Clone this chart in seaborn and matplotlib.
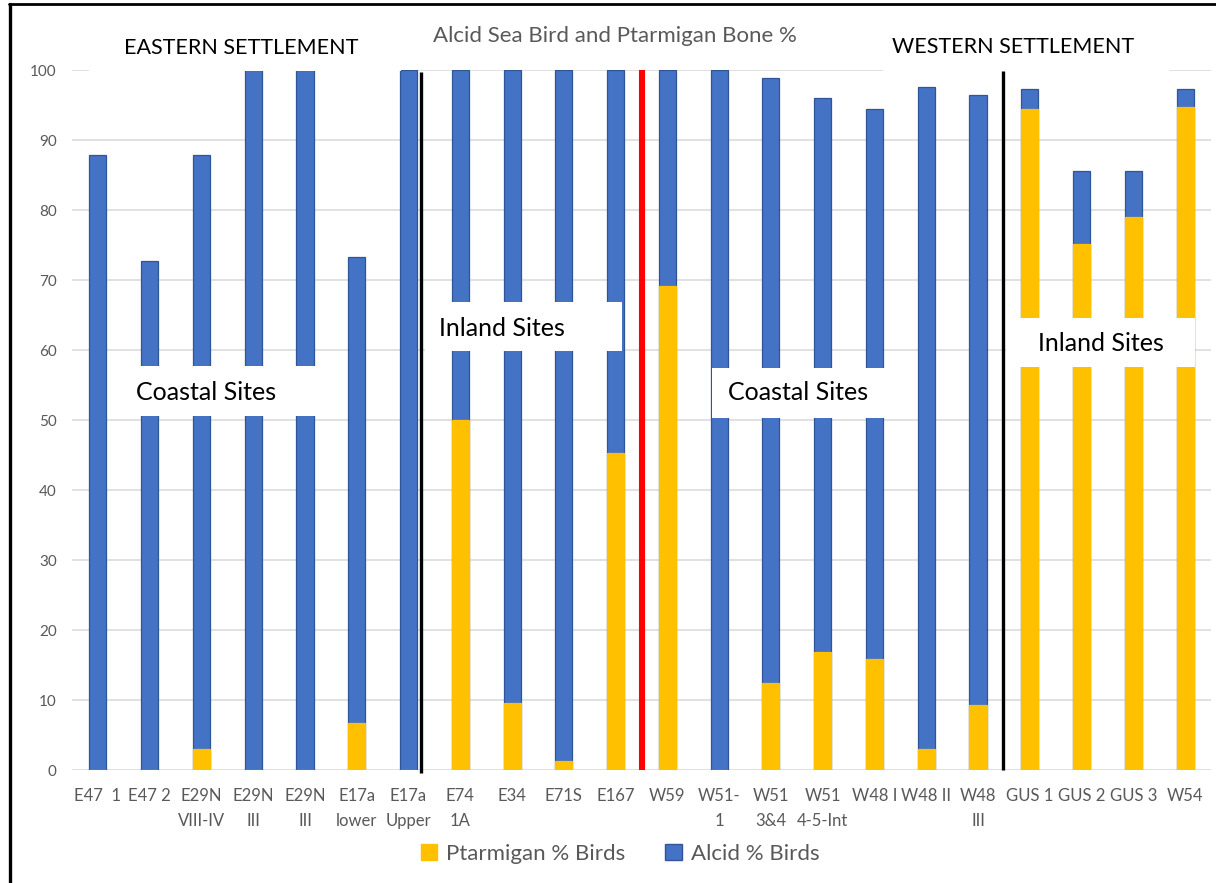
import matplotlib
matplotlib.use("Agg")
import matplotlib.pyplot as plt
from matplotlib.patches import Rectangle, Patch
from matplotlib.lines import Line2D
import numpy as np
import pandas as pd
import seaborn as sns

# Site labels along the x axis
sites = ["E47  1", "E47 2", "E29N\nVIII-IV", "E29N\nIII", "E29N\nIII",
         "E17a\nlower", "E17a\nUpper", "E74\n1A", "E34", "E71S", "E167",
         "W59", "W51-\n1", "W51\n3&4", "W51\n4-5-Int", "W48 I", "W48 II",
         "W48\nIII", "GUS 1", "GUS 2", "GUS 3", "W54"]

# Ptarmigan share of bird bones (%)
ptarmigan = [0, 0, 3.0, 0, 0, 6.7, 0, 50.0, 9.6, 1.3, 45.3,
             69.1, 0, 12.4, 16.9, 15.9, 3.0, 9.3, 94.4, 75.1, 79.0, 94.7]

# Alcid share of bird bones (%)
alcid = [87.9, 72.7, 84.9, 100.0, 100.0, 66.6, 100.0, 50.0, 90.4, 98.7, 54.7,
         30.9, 100.0, 86.5, 79.1, 78.5, 94.6, 87.1, 2.9, 10.5, 6.6, 2.6]

BLUE = "#4472C4"
BLUE_EDGE = "#2F5597"
GOLD = "#FFC000"
GREY = "#595959"

df = pd.DataFrame({
    "pos": np.arange(len(sites)),
    "ptarmigan": ptarmigan,
    "alcid": alcid,
})
df["total"] = df["ptarmigan"] + df["alcid"]

sns.set_theme(style="white")
plt.rcParams["font.family"] = ["Lato", "DejaVu Sans"]

fig = plt.figure(figsize=(12.16, 8.83), dpi=100)
ax = fig.add_axes([72 / 1216, 1 - 770 / 883, (1211 - 72) / 1216, 700 / 883])

# Stacked columns: full height in blue, ptarmigan portion in gold over it
sns.barplot(data=df, x="pos", y="total", color=BLUE, saturation=1,
            width=0.33, errorbar=None, edgecolor=BLUE_EDGE, linewidth=0.9,
            ax=ax, zorder=3)
sns.barplot(data=df, x="pos", y="ptarmigan", color=GOLD, saturation=1,
            width=0.33, errorbar=None, edgecolor=GOLD, linewidth=0.9,
            ax=ax, zorder=4)

ax.set_xlim(-0.5, len(sites) - 0.5)
ax.set_ylim(0, 100)
ax.set_yticks(np.arange(0, 101, 10))
ax.yaxis.grid(True, color="#D9D9D9", linewidth=1.1, zorder=0)
ax.set_axisbelow(True)
for s in ax.spines.values():
    s.set_visible(False)
ax.set_xlabel("")
ax.set_ylabel("")
ax.set_xticks(np.arange(len(sites)))
ax.set_xticklabels(sites, fontsize=12, color=GREY, linespacing=1.7,
                   va="top")
ax.tick_params(axis="x", length=0, pad=13)
ax.tick_params(axis="y", length=0, pad=11, labelsize=11, labelcolor=GREY)

# Dividers between site groups
ax.plot([6.24, 6.24], [-0.4, 99.7], color="black", lw=2.4, zorder=6,
        clip_on=False, solid_capstyle="butt")
ax.plot([10.51, 10.51], [0, 100], color="#FF0000", lw=4.4, zorder=6,
        clip_on=False, solid_capstyle="butt")
ax.plot([17.48, 17.48], [0, 99.8], color="black", lw=2.4, zorder=6,
        clip_on=False, solid_capstyle="butt")

# White labelled boxes
boxes = [
    # (x0, x1, y0, y1, text, tx, ty, size)
    (-0.17, 5.86, 99.86, 106.4, "EASTERN SETTLEMENT", 2.77, 103.1, 15.5),
    (15.17, 20.69, 99.86, 106.4, "WESTERN SETTLEMENT", 17.68, 103.3, 15.5),
    (0.43, 4.48, 50.57, 57.71, "Coastal Sites", 2.09, 54.0, 18),
    (6.32, 10.12, 59.86, 66.86, "Inland Sites", 7.81, 63.14, 18),
    (11.86, 15.40, 50.29, 57.43, "Coastal Sites", 13.52, 53.86, 18),
    (17.54, 21.19, 57.57, 64.57, "Inland Sites", 19.38, 61.0, 18),
]
for x0, x1, y0, y1, label, tx, ty, size in boxes:
    ax.add_patch(Rectangle((x0, y0), x1 - x0, y1 - y0, facecolor="white",
                           edgecolor="none", zorder=7, clip_on=False))
    ax.text(tx, ty, label, ha="center", va="center", fontsize=size,
            color="black", zorder=8, clip_on=False)

fig.text(615 / 1216, 1 - 36 / 883, "Alcid Sea Bird and Ptarmigan Bone %",
         ha="center", va="center", fontsize=16, color=GREY)

handles = [Patch(facecolor=GOLD, edgecolor=GOLD, label="Ptarmigan % Birds"),
           Patch(facecolor=BLUE, edgecolor=BLUE_EDGE, label="Alcid % Birds")]
fig.legend(handles=handles, loc="center", bbox_to_anchor=(620 / 1216, 1 - 854 / 883),
           ncol=2, frameon=False, fontsize=16, labelcolor=GREY,
           handlelength=0.75, handleheight=0.75, handletextpad=0.4,
           columnspacing=1.8)

# Frame lines along the left and top edges
fig.add_artist(Line2D([10 / 1216, 10 / 1216], [0, 1 - 4 / 883], color="black",
                      lw=2.4, transform=fig.transFigure))
fig.add_artist(Line2D([9 / 1216, 1], [1 - 4 / 883, 1 - 4 / 883], color="black",
                      lw=2.0, transform=fig.transFigure))

fig.savefig("out.png", dpi=100, facecolor="white")
